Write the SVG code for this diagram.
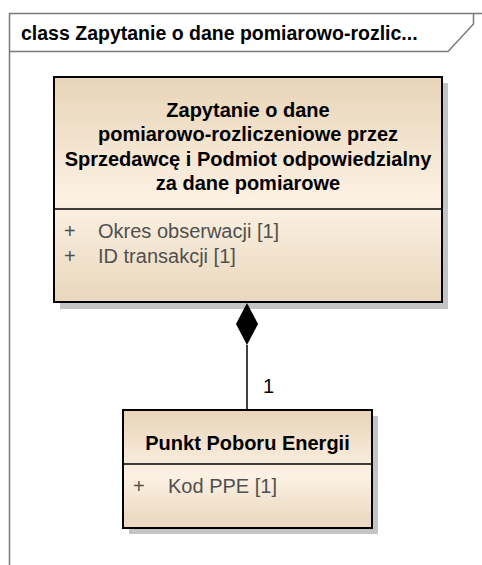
<svg xmlns="http://www.w3.org/2000/svg" width="482" height="565" viewBox="0 0 482 565">
<style>
.frame{fill:none;stroke:#7a7a7a;stroke-width:1.5}
.box{stroke:#000;stroke-width:2;fill:url(#g)}
.shadow{fill:#c4c4c4}
.sep{stroke:#000;stroke-width:1.5}
.title{font-family:"Liberation Sans",Arial,sans-serif;font-weight:bold;font-size:20px;fill:#000;text-anchor:middle}
.hdr{font-family:"Liberation Sans",Arial,sans-serif;font-weight:bold;font-size:19.5px;fill:#000}
.attr{font-family:"Liberation Sans",Arial,sans-serif;font-size:20px;fill:#505050}
.lbl{font-family:"Liberation Sans",Arial,sans-serif;font-size:20px;fill:#000}
</style>
<defs>
<linearGradient id="g" x1="0" y1="0" x2="0" y2="1">
<stop offset="0" stop-color="#e8d4b8"/>
<stop offset="0.55" stop-color="#fcf1e3"/>
<stop offset="1" stop-color="#e9d7bd"/>
</linearGradient>
</defs>
<rect width="482" height="565" fill="#fff"/>
<g id="frame">
<path class="frame" d="M9.5,565 V13.5 H482"/>
<path class="frame" d="M9.5,51.5 H448 L473.5,24 V13.5"/>
<text class="hdr" x="21" y="39.5">class Zapytanie o dane pomiarowo-rozlic...</text>
</g>
<g id="zapytanie">
<rect class="shadow" x="60" y="83" width="388" height="226"/>
<rect class="box" x="54" y="77" width="388" height="225"/>
<line class="sep" x1="54" y1="209" x2="442" y2="209"/>
<text class="title" x="248" y="116.5">Zapytanie o dane</text>
<text class="title" x="248" y="141">pomiarowo-rozliczeniowe przez</text>
<text class="title" x="248" y="165.5">Sprzedawcę i Podmiot odpowiedzialny</text>
<text class="title" x="248" y="190">za dane pomiarowe</text>
<text class="attr" x="64" y="237.5">+</text>
<text class="attr" x="98" y="237.5">Okres obserwacji [1]</text>
<text class="attr" x="64" y="263">+</text>
<text class="attr" x="98" y="263">ID transakcji [1]</text>
</g>
<g id="ppe">
<rect class="shadow" x="129" y="416" width="249" height="118"/>
<rect class="box" x="123" y="410" width="249" height="118"/>
<line class="sep" x1="123" y1="464" x2="372" y2="464"/>
<text class="title" x="247.5" y="450">Punkt Poboru Energii</text>
<text class="attr" x="133" y="493">+</text>
<text class="attr" x="168" y="493">Kod PPE [1]</text>
</g>
<g id="connectors">
<line x1="247" y1="345" x2="247" y2="410" stroke="#000" stroke-width="1.5"/>
<polygon points="247,303 258,324 247,345 236,324" fill="#000"/>
<text class="lbl" x="263" y="393">1</text>
</g>
</svg>
